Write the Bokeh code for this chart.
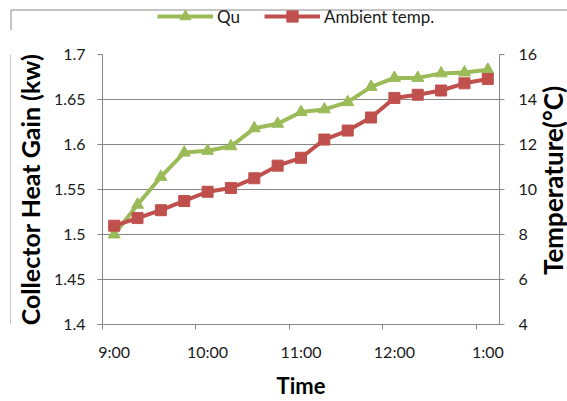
import math
from bokeh.plotting import figure
from bokeh.layouts import column, row
from bokeh.models import (Range1d, LinearAxis, FixedTicker, NumeralTickFormatter,
                          Legend, LegendItem, Label)
from bokeh.embed import file_html
from bokeh.resources import INLINE

# ---- data ----
times = ["9:00", "9:15", "9:30", "9:45", "10:00", "10:15", "10:30", "10:45",
         "11:00", "11:15", "11:30", "11:45", "12:00", "12:15", "12:30", "12:45", "1:00"]
qu = [1.500, 1.533, 1.564, 1.591, 1.593, 1.598, 1.618, 1.623, 1.636,
      1.639, 1.647, 1.664, 1.674, 1.674, 1.679, 1.680, 1.683]
ambient = [8.39, 8.73, 9.08, 9.49, 9.90, 10.07, 10.50, 11.06, 11.41,
           12.22, 12.62, 13.20, 14.07, 14.21, 14.40, 14.72, 14.91]
label_idx = [0, 4, 8, 12, 16]
left_ticks = [1.4, 1.45, 1.5, 1.55, 1.6, 1.65, 1.7]
right_ticks = [4, 6, 8, 10, 12, 14, 16]
series_names = ["Qu", "Ambient temp."]
x_title = "Time"
left_title = "Collector Heat Gain (kw)"
right_title = "Temperature(°C)"

x = list(range(len(times)))

GREEN = "#9BBB59"
RED = "#C0504D"
GRID = "#868686"
BORDER = "#8a8a8a"
FONT = "Lato"
TXT = "#1a1a1a"


def blank(w, h):
    f = figure(width=w, height=h, output_backend="svg", toolbar_location=None,
               x_axis_type=None, y_axis_type=None,
               x_range=Range1d(0, w), y_range=Range1d(0, h),
               min_border=0, outline_line_color=None)
    f.background_fill_color = "white"
    f.border_fill_color = "white"
    return f


# ---- top strip: outer border + legend ----
top = blank(567, 30)
top.segment(x0=[10.5, 10.5], y0=[20.5, 20.5], x1=[567, 10.5], y1=[20.5, 0],
            line_color=BORDER, line_width=1)
d1 = top.line([-1000, -999], [-1000, -1000], line_color=GREEN, line_width=4)
d1s = top.scatter([-1000], [-1000], marker="triangle", size=12,
                  fill_color=GREEN, line_color=GREEN)
d2 = top.line([-1000, -999], [-1000, -1000], line_color=RED, line_width=4)
d2s = top.scatter([-1000], [-1000], marker="square", size=11,
                  fill_color=RED, line_color=RED)
legend = Legend(items=[LegendItem(label=series_names[0], renderers=[d1, d1s]),
                       LegendItem(label=series_names[1], renderers=[d2, d2s])],
                orientation="horizontal", location=(157, 0),
                glyph_width=56, glyph_height=28, label_standoff=4, spacing=24,
                padding=0, margin=0, border_line_color=None,
                background_fill_alpha=0,
                label_text_font=FONT, label_text_font_size="17px",
                label_text_color=TXT)
top.add_layout(legend)

# ---- left strip: outer border ----
left = blank(11, 371)
left.segment(x0=[10.5], y0=[0], x1=[10.5], y1=[371], line_color=BORDER, line_width=1)

# ---- right strip: right axis title ----
RW = 27
right = blank(RW, 371)
right.add_layout(Label(x=12, y=68, text=right_title, angle=math.pi / 2,
                       text_align="left", text_baseline="middle",
                       text_font=FONT, text_font_style="bold",
                       text_font_size="26px", text_color="black"))

# ---- main chart ----
p = figure(width=567 - 11 - RW, height=371, output_backend="svg", toolbar_location=None,
           x_range=Range1d(-0.5, len(times) - 0.5), y_range=Range1d(1.4, 1.7),
           min_border_left=90, min_border_right=37, min_border_top=24,
           min_border_bottom=71)
p.extra_y_ranges = {"t": Range1d(4, 16)}
p.background_fill_color = "white"
p.border_fill_color = "white"
p.outline_line_color = None

xa = p.xaxis[0]
xa.ticker = FixedTicker(ticks=label_idx, minor_ticks=[i - 0.5 for i in label_idx])
xa.major_label_overrides = {i: times[i] for i in label_idx}
xa.major_tick_in = 0
xa.major_tick_out = 0
xa.minor_tick_in = 0
xa.minor_tick_out = 5
xa.minor_tick_line_color = GRID
xa.axis_line_color = GRID
xa.major_label_text_font = FONT
xa.major_label_text_font_size = "16px"
xa.major_label_text_color = TXT
xa.major_label_standoff = 12
xa.axis_label = x_title
xa.axis_label_text_font = FONT
xa.axis_label_text_font_style = "bold"
xa.axis_label_text_font_size = "22px"
xa.axis_label_text_color = "black"
xa.axis_label_standoff = 8

ya = p.yaxis[0]
ya.ticker = FixedTicker(ticks=left_ticks)
ya.formatter = NumeralTickFormatter(format="0.0[0]")
ya.major_tick_in = 0
ya.major_tick_out = 5
ya.minor_tick_out = 0
ya.minor_tick_in = 0
ya.major_tick_line_color = GRID
ya.axis_line_color = GRID
ya.major_label_text_font = FONT
ya.major_label_text_font_size = "16px"
ya.major_label_text_color = TXT
ya.major_label_standoff = 12
ya.axis_label = left_title
ya.axis_label_text_font = FONT
ya.axis_label_text_font_style = "bold"
ya.axis_label_text_font_size = "25px"
ya.axis_label_text_color = "black"
ya.axis_label_standoff = 6

ra = LinearAxis(y_range_name="t", ticker=FixedTicker(ticks=right_ticks))
ra.major_tick_in = 0
ra.major_tick_out = 5
ra.minor_tick_out = 0
ra.minor_tick_in = 0
ra.major_tick_line_color = GRID
ra.axis_line_color = GRID
ra.major_label_text_font = FONT
ra.major_label_text_font_size = "16px"
ra.major_label_text_color = TXT
ra.major_label_standoff = 14
p.add_layout(ra, "right")

p.xgrid.visible = False
p.ygrid[0].ticker = FixedTicker(ticks=left_ticks)
p.ygrid.grid_line_color = GRID
p.ygrid.grid_line_width = 1

p.line(x, qu, line_color=GREEN, line_width=4)
p.scatter(x, qu, marker="triangle", size=12, fill_color=GREEN, line_color=GREEN)
p.line(x, ambient, line_color=RED, line_width=4, y_range_name="t")
p.scatter(x, ambient, marker="square", size=11, fill_color=RED, line_color=RED,
          y_range_name="t")

layout = column(top, row(left, p, right, spacing=0), spacing=0)
open("out.html", "w").write(file_html(layout, INLINE))
